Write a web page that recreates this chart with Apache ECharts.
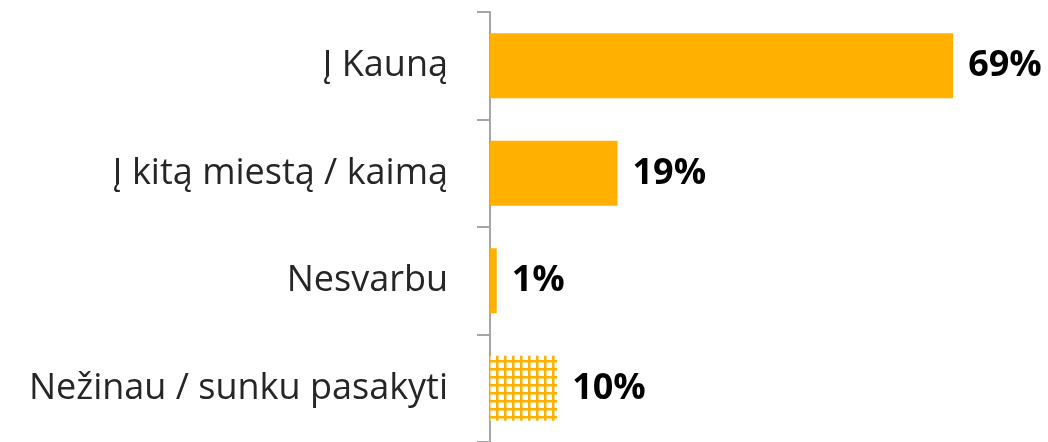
<!DOCTYPE html>
<html>
<head>
<meta charset="utf-8">
<script src="https://cdn.jsdelivr.net/npm/echarts@6/dist/echarts.min.js"></script>
<style>
  html, body { margin: 0; padding: 0; background: #fff; }
  #chart { width: 1048px; height: 442px; }
</style>
</head>
<body>
<div id="chart"></div>
<script>
var categories = ['Į Kauną', 'Į kitą miestą / kaimą', 'Nesvarbu', 'Nežinau / sunku pasakyti'];
var values = [69, 19, 1, 10];
var hatched = [false, false, false, true];

var barColor = '#FFB000';

function makeGridPattern() {
  var c = document.createElement('canvas');
  c.width = 8;
  c.height = 8;
  var ctx = c.getContext('2d');
  ctx.fillStyle = '#ffffff';
  ctx.fillRect(0, 0, 8, 8);
  ctx.fillStyle = barColor;
  ctx.fillRect(0, 0, 2.5, 8);
  ctx.fillRect(0, 0, 8, 2.5);
  return { image: c, repeat: 'repeat' };
}

var pattern = makeGridPattern();

var chart = echarts.init(document.getElementById('chart'));

chart.setOption({
  animation: false,
  grid: {
    left: 490,
    top: 12,
    width: 537,
    height: 432
  },
  xAxis: {
    type: 'value',
    min: 0,
    max: 80,
    show: false
  },
  yAxis: {
    type: 'category',
    data: categories,
    inverse: true,
    axisLine: { show: true, lineStyle: { color: '#A6A6A6', width: 2 } },
    axisTick: { show: true, length: 13, lineStyle: { color: '#A6A6A6', width: 2 } },
    axisLabel: {
      margin: 42,
      color: '#262626',
      fontSize: 36,
      fontFamily: 'Open Sans'
    }
  },
  series: [{
    type: 'bar',
    barWidth: 65,
    data: values.map(function (v, i) {
      return {
        value: v,
        itemStyle: { color: hatched[i] ? pattern : barColor }
      };
    }),
    label: {
      show: true,
      position: 'right',
      distance: 15,
      formatter: '{c}%',
      color: '#000',
      fontSize: 36,
      fontWeight: 'bold',
      fontFamily: 'Open Sans'
    }
  }]
});
</script>
</body>
</html>
